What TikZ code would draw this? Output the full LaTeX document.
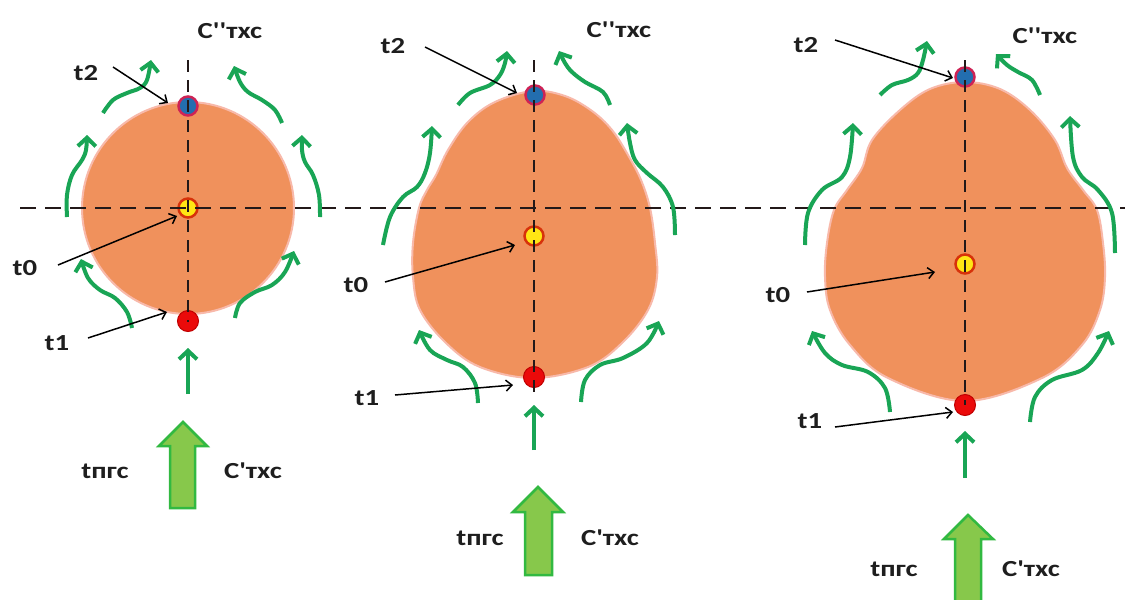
\documentclass[tikz,border=0pt]{standalone}
\usepackage{fontspec}
\setmainfont{Carlito}
\usetikzlibrary{arrows.meta}
\definecolor{orng}{RGB}{240,145,92}
\definecolor{orngedge}{RGB}{248,185,170}
\definecolor{flowg}{RGB}{25,165,85}
\definecolor{bigfill}{RGB}{135,200,75}
\definecolor{bigdraw}{RGB}{50,185,65}
\definecolor{txt}{RGB}{30,30,30}
\definecolor{dotblue}{RGB}{35,110,175}
\definecolor{dotrim}{RGB}{205,35,85}
\definecolor{dotyel}{RGB}{255,230,20}
\definecolor{dotorg}{RGB}{215,50,10}
\definecolor{dotred}{RGB}{235,10,10}
\definecolor{axis}{RGB}{35,25,25}
\newcommand{\qs}{\textquotesingle}
\newcommand{\wide}[1]{\scalebox{1.25}[1]{#1}}
\begin{document}
\begin{tikzpicture}[x=1pt,y=-1pt,
  lbl/.style={font=\fontsize{23}{27}\selectfont\bfseries, text=txt, inner sep=0pt, anchor=base},
  blob/.style={fill=orng, draw=orngedge, line width=2pt},
  dotb/.style={circle, minimum size=19pt, inner sep=0pt, fill=dotblue, draw=dotrim, line width=2.5pt},
  doty/.style={circle, minimum size=19pt, inner sep=0pt, fill=dotyel, draw=dotorg, line width=2.5pt},
  dotr/.style={circle, minimum size=21pt, inner sep=0pt, fill=dotred, draw=red!75!black, line width=1pt},
  haxis/.style={draw=axis, line width=2pt, dash pattern=on 16pt off 9pt},
  vaxis/.style={draw=axis, line width=2pt, dash pattern=on 12pt off 8pt},
  flow/.style={draw=flowg, line width=4pt, -{Straight Barb[length=8.5pt,width=18pt]}},
  lblarrow/.style={draw=black, line width=1.5pt, -{Straight Barb[length=6pt,width=11pt]}},
  bigarrow/.style={fill=bigfill, draw=bigdraw, line width=2.5pt, line join=miter}
]
\useasboundingbox (0,0) rectangle (1125,600);
\clip (0,0) rectangle (1125,600);
\fill[white] (0,0) rectangle (1125,600);

% ---------------- shapes ----------------
\path[blob] (188,208) circle[radius=106];
\path[blob] plot[smooth cycle, tension=0.6] coordinates {
 (533,91) (565,96) (592,111) (612,130) (628,155) (641,180) (650,208) (655,243)
 (657,277) (648,310) (622,343) (588,367) (533,378) (480,367) (446,343) (420,310)
 (413,277) (413,243) (419,208) (427,190) (436,175) (448,150) (468,122) (495,102)};
\path[blob] plot[smooth cycle, tension=0.6] coordinates {
 (965,82) (1000,89) (1030,110) (1055,140) (1067,168) (1083,190) (1097,210) (1103,243)
 (1105,277) (1100,310) (1082,345) (1042,378) (965,401) (888,378) (850,345) (830,310)
 (825,277) (827,243) (834,210) (847,190) (862,168) (872,140) (900,110) (930,89)};

% ---------------- dots ----------------
\node[dotb] (d1t2) at (188,106) {};
\node[doty] (d1t0) at (188,208) {};
\node[dotr] (d1t1) at (188,321) {};
\node[dotb] (d2t2) at (535,95) {};
\node[doty] (d2t0) at (534,236) {};
\node[dotr] (d2t1) at (534,377) {};
\node[dotb] (d3t2) at (965,77) {};
\node[doty] (d3t0) at (965,264) {};
\node[dotr] (d3t1) at (965,405) {};

% ---------------- axes ----------------
\coordinate (hl) at (20,208);
\coordinate (hr) at (1130,208);
\draw[haxis] (hl) -- (hr);
\coordinate (v1a) at (188,60); \coordinate (v1b) at (188,322);
\coordinate (v2a) at (534,60); \coordinate (v2b) at (534,395);
\coordinate (v3a) at (965,60); \coordinate (v3b) at (965,405);
\draw[vaxis] (v1a) -- (v1b);
\draw[vaxis] (v2a) -- (v2b);
\draw[vaxis] (v3a) -- (v3b);

% ---------------- flow arrows, diagram 1 ----------------
\draw[flow] plot[smooth, tension=0.6] coordinates {(103,113) (113,100) (127,93) (140,88) (147,80) (151,60)};
\draw[flow] plot[smooth, tension=0.6] coordinates {(282,123) (275,110) (262,100) (248,92) (240,82) (234,66)};
\draw[flow] plot[smooth, tension=0.6] coordinates {(67,217) (67,195) (72,175) (82,160) (86,150) (87,135)};
\draw[flow] plot[smooth, tension=0.6] coordinates {(320,217) (319,195) (313,175) (305,162) (302,150) (302,135)};
\draw[flow] plot[smooth, tension=0.6] coordinates {(132,328) (127,312) (115,298) (100,290) (88,278) (81,259)};
\draw[flow] plot[smooth, tension=0.6] coordinates {(235,318) (240,303) (255,292) (272,285) (285,272) (294,251)};
\coordinate (s1a) at (188,394); \coordinate (s1b) at (188,348);
\draw[flow] (s1a) -- (s1b);

% ---------------- flow arrows, diagram 2 ----------------
\draw[flow] plot[smooth, tension=0.6] coordinates {(458,105) (470,93) (490,85) (500,75) (505,63) (507,51)};
\draw[flow] plot[smooth, tension=0.6] coordinates {(610,105) (603,92) (585,82) (572,72) (565,63) (559,51)};
\draw[flow] plot[smooth, tension=0.6] coordinates {(383,245) (390,217) (403,197) (417,187) (425,173) (430,153) (432,126)};
\draw[flow] plot[smooth, tension=0.6] coordinates {(675,235) (673,207) (663,187) (647,173) (635,160) (630,143) (627,123)};
\draw[flow] plot[smooth, tension=0.6] coordinates {(478,403) (475,383) (463,367) (447,360) (430,350) (419,330)};
\draw[flow] plot[smooth, tension=0.6] coordinates {(581,402) (585,380) (600,365) (623,358) (647,343) (659,321)};
\coordinate (s2a) at (534,450); \coordinate (s2b) at (534,405);
\draw[flow] (s2a) -- (s2b);

% ---------------- flow arrows, diagram 3 ----------------
\draw[flow] plot[smooth, tension=0.6] coordinates {(880,95) (892,85) (908,80) (918,73) (923,60) (927,41)};
\draw[flow] plot[smooth, tension=0.6] coordinates {(1040,95) (1032,80) (1018,72) (1007,65) (996,54)};
\draw[flow] plot[smooth, tension=0.6] coordinates {(805,245) (808,213) (822,190) (842,177) (850,157) (853,123)};
\draw[flow] plot[smooth, tension=0.6] coordinates {(1115,253) (1112,213) (1098,190) (1082,177) (1073,157) (1070,116)};
\draw[flow] plot[smooth, tension=0.6] coordinates {(890,412) (885,388) (868,372) (842,365) (825,353) (812,331)};
\draw[flow] plot[smooth, tension=0.6] coordinates {(1030,422) (1035,397) (1052,380) (1082,370) (1098,353) (1109,331)};
\coordinate (s3a) at (965,478); \coordinate (s3b) at (965,431);
\draw[flow] (s3a) -- (s3b);

% ---------------- big arrows ----------------
\draw[bigarrow] (170,508) -- (170,446) -- (159,446) -- (183,422) -- (207,446) -- (195,446) -- (195,508) -- cycle;
\draw[bigarrow] (525,575) -- (525,512) -- (513,512) -- (538,487) -- (563,512) -- (552,512) -- (552,575) -- cycle;
\draw[bigarrow] (955,610) -- (955,539) -- (944,539) -- (968,515) -- (993,539) -- (981,539) -- (981,610) -- cycle;

% ---------------- labels ----------------
\node[lbl] (c1top) at (230,38) {\wide{C\qs\qs тхс}};
\node[lbl] (l1t2) at (86,80) {\wide{t2}};
\node[lbl] (l1t0) at (25,275) {\wide{t0}};
\node[lbl] (l1t1) at (57,350) {\wide{t1}};
\node[lbl] (l1tp) at (105,478) {\wide{tпгс}};
\node[lbl] (l1cb) at (253,478) {\wide{C\qs тхс}};

\node[lbl] (c2top) at (619,37) {\wide{C\qs\qs тхс}};
\node[lbl] (l2t2) at (393,53) {\wide{t2}};
\node[lbl] (l2t0) at (356,292) {\wide{t0}};
\node[lbl] (l2t1) at (367,405) {\wide{t1}};
\node[lbl] (l2tp) at (480,545) {\wide{tпгс}};
\node[lbl] (l2cb) at (610,545) {\wide{C\qs тхс}};

\node[lbl] (c3top) at (1045,43) {\wide{C\qs\qs тхс}};
\node[lbl] (l3t2) at (806,52) {\wide{t2}};
\node[lbl] (l3t0) at (778,302) {\wide{t0}};
\node[lbl] (l3t1) at (810,428) {\wide{t1}};
\node[lbl] (l3tp) at (894,576) {\wide{tпгс}};
\node[lbl] (l3cb) at (1031,576) {\wide{C\qs тхс}};

% ---------------- label arrows ----------------
\coordinate (a1t2s) at (113,67);  \coordinate (a1t2e) at (168,103);
\coordinate (a1t0s) at (58,265);  \coordinate (a1t0e) at (177,216);
\coordinate (a1t1s) at (88,338);  \coordinate (a1t1e) at (167,312);
\draw[lblarrow] (a1t2s) -- (a1t2e);
\draw[lblarrow] (a1t0s) -- (a1t0e);
\draw[lblarrow] (a1t1s) -- (a1t1e);

\coordinate (a2t2s) at (425,47);  \coordinate (a2t2e) at (517,93);
\coordinate (a2t0s) at (385,282); \coordinate (a2t0e) at (515,245);
\coordinate (a2t1s) at (395,395); \coordinate (a2t1e) at (513,385);
\draw[lblarrow] (a2t2s) -- (a2t2e);
\draw[lblarrow] (a2t0s) -- (a2t0e);
\draw[lblarrow] (a2t1s) -- (a2t1e);

\coordinate (a3t2s) at (835,40);  \coordinate (a3t2e) at (953,78);
\coordinate (a3t0s) at (807,292); \coordinate (a3t0e) at (935,272);
\coordinate (a3t1s) at (835,427); \coordinate (a3t1e) at (953,412);
\draw[lblarrow] (a3t2s) -- (a3t2e);
\draw[lblarrow] (a3t0s) -- (a3t0e);
\draw[lblarrow] (a3t1s) -- (a3t1e);
\end{tikzpicture}
\end{document}
